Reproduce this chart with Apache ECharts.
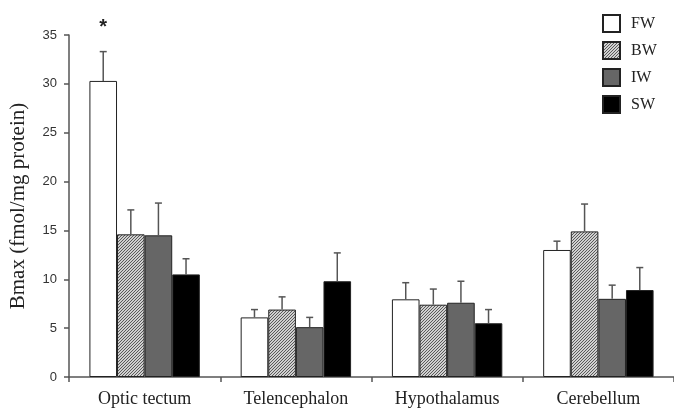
<!DOCTYPE html>
<html>
<head>
<meta charset="utf-8">
<script src="https://cdn.jsdelivr.net/npm/echarts@6/dist/echarts.min.js"></script>
<style>html,body{margin:0;padding:0;background:#fff;}#c{width:674px;height:408px;}</style>
</head>
<body>
<div id="c"></div>
<script>
var categories = ['Optic tectum', 'Telencephalon', 'Hypothalamus', 'Cerebellum'];
var seriesNames = ['FW', 'BW', 'IW', 'SW'];
var FW = [30.3, 6.1, 7.95, 13.0];
var BW = [14.6, 6.9, 7.4, 14.9];
var IW = [14.5, 5.1, 7.6, 8.0];
var SW = [10.5, 9.8, 5.5, 8.9];
var FW_err = [3.0, 0.8, 1.7, 0.9];
var BW_err = [2.5, 1.3, 1.6, 2.8];
var IW_err = [3.3, 1.0, 2.2, 1.4];
var SW_err = [1.6, 2.9, 1.4, 2.3];
var FW_sig = ['*', '', '', ''];
var yTicks = [0, 5, 10, 15, 20, 25, 30, 35];

var values = [FW, BW, IW, SW];
var errors = [FW_err, BW_err, IW_err, SW_err];
var sigs = [FW_sig, ['', '', '', ''], ['', '', '', ''], ['', '', '', '']];

// fine hatch pattern for BW
var pc = document.createElement('canvas');
pc.width = 3; pc.height = 3;
var pctx = pc.getContext('2d');
pctx.fillStyle = '#d0d0d0';
pctx.fillRect(0, 0, 3, 3);
pctx.fillStyle = '#5a5a5a';
pctx.fillRect(0, 2, 1, 1);
pctx.fillRect(1, 1, 1, 1);
pctx.fillRect(2, 0, 1, 1);

var fills = ['#ffffff', {image: pc, repeat: 'repeat'}, '#666666', '#000000'];
var gapFrac = 0.27;

var series = [];
for (var s = 0; s < 4; s++) {
  series.push({
    name: seriesNames[s],
    type: 'bar',
    data: values[s],
    barGap: '0%',
    barCategoryGap: (gapFrac * 100) + '%',
    itemStyle: {color: fills[s], borderColor: '#222', borderWidth: 1},
    emphasis: {disabled: true},
    z: 2
  });
}

var errData = [];
for (var s2 = 0; s2 < 4; s2++) {
  for (var c = 0; c < categories.length; c++) {
    errData.push([c, values[s2][c], values[s2][c] + errors[s2][c], s2, sigs[s2][c]]);
  }
}

series.push({
  type: 'custom',
  data: errData,
  z: 3,
  silent: true,
  clip: false,
  renderItem: function (params, api) {
    var ci = api.value(0), v = api.value(1), top = api.value(2), si = api.value(3);
    var band = api.size([1, 0])[0];
    var groupW = band * (1 - gapFrac);
    var bw = groupW / 4;
    var base = api.coord([ci, v]);
    var t = api.coord([ci, top]);
    var x = base[0] - groupW / 2 + (si + 0.5) * bw;
    var cap = 3.5;
    var st = {stroke: '#555', lineWidth: 1.5};
    var children = [
      {type: 'line', shape: {x1: x, y1: base[1], x2: x, y2: t[1]}, style: st},
      {type: 'line', shape: {x1: x - cap, y1: t[1], x2: x + cap, y2: t[1]}, style: st}
    ];
    var sg = errData[params.dataIndex][4];
    if (sg) {
      children.push({type: 'text', style: {text: sg, x: x, y: t[1] - 24, align: 'center', verticalAlign: 'middle', font: 'bold 20px "Liberation Sans", Arial, sans-serif', fill: '#222'}});
    }
    return {type: 'group', children: children};
  }
});

var chart = echarts.init(document.getElementById('c'), null, {renderer: 'canvas'});
chart.setOption({
  animation: false,
  backgroundColor: '#fff',
  grid: {left: 67, right: 0, top: 35, bottom: 31},
  legend: {
    data: seriesNames,
    orient: 'vertical',
    left: 602,
    top: 14,
    padding: 0,
    icon: 'rect',
    itemWidth: 17,
    itemHeight: 17,
    itemGap: 8,
    textStyle: {fontFamily: '"Liberation Serif", "Times New Roman", serif', fontSize: 16, color: '#222', padding: [0, 0, 0, 6], lineHeight: 17},
    selectedMode: false
  },
  xAxis: {
    type: 'category',
    data: categories,
    axisLine: {lineStyle: {color: '#555', width: 1.5}},
    axisTick: {show: true, length: 5, lineStyle: {color: '#555', width: 1.5}},
    axisLabel: {fontFamily: '"Liberation Serif", "Times New Roman", serif', fontSize: 18, color: '#222', margin: 13}
  },
  yAxis: {
    type: 'value',
    min: yTicks[0],
    max: yTicks[yTicks.length - 1],
    interval: 5,
    name: 'Bmax (fmol/mg protein)',
    nameLocation: 'middle',
    nameGap: 40,
    nameTextStyle: {fontFamily: '"Liberation Serif", "Times New Roman", serif', fontSize: 21, color: '#222'},
    axisLine: {show: true, lineStyle: {color: '#555', width: 1.5}},
    axisTick: {show: true, length: 5, lineStyle: {color: '#555', width: 1.5}},
    axisLabel: {fontFamily: '"Liberation Sans", Arial, sans-serif', fontSize: 13, color: '#333', margin: 12},
    splitLine: {show: false}
  },
  series: series
});
</script>
</body>
</html>
